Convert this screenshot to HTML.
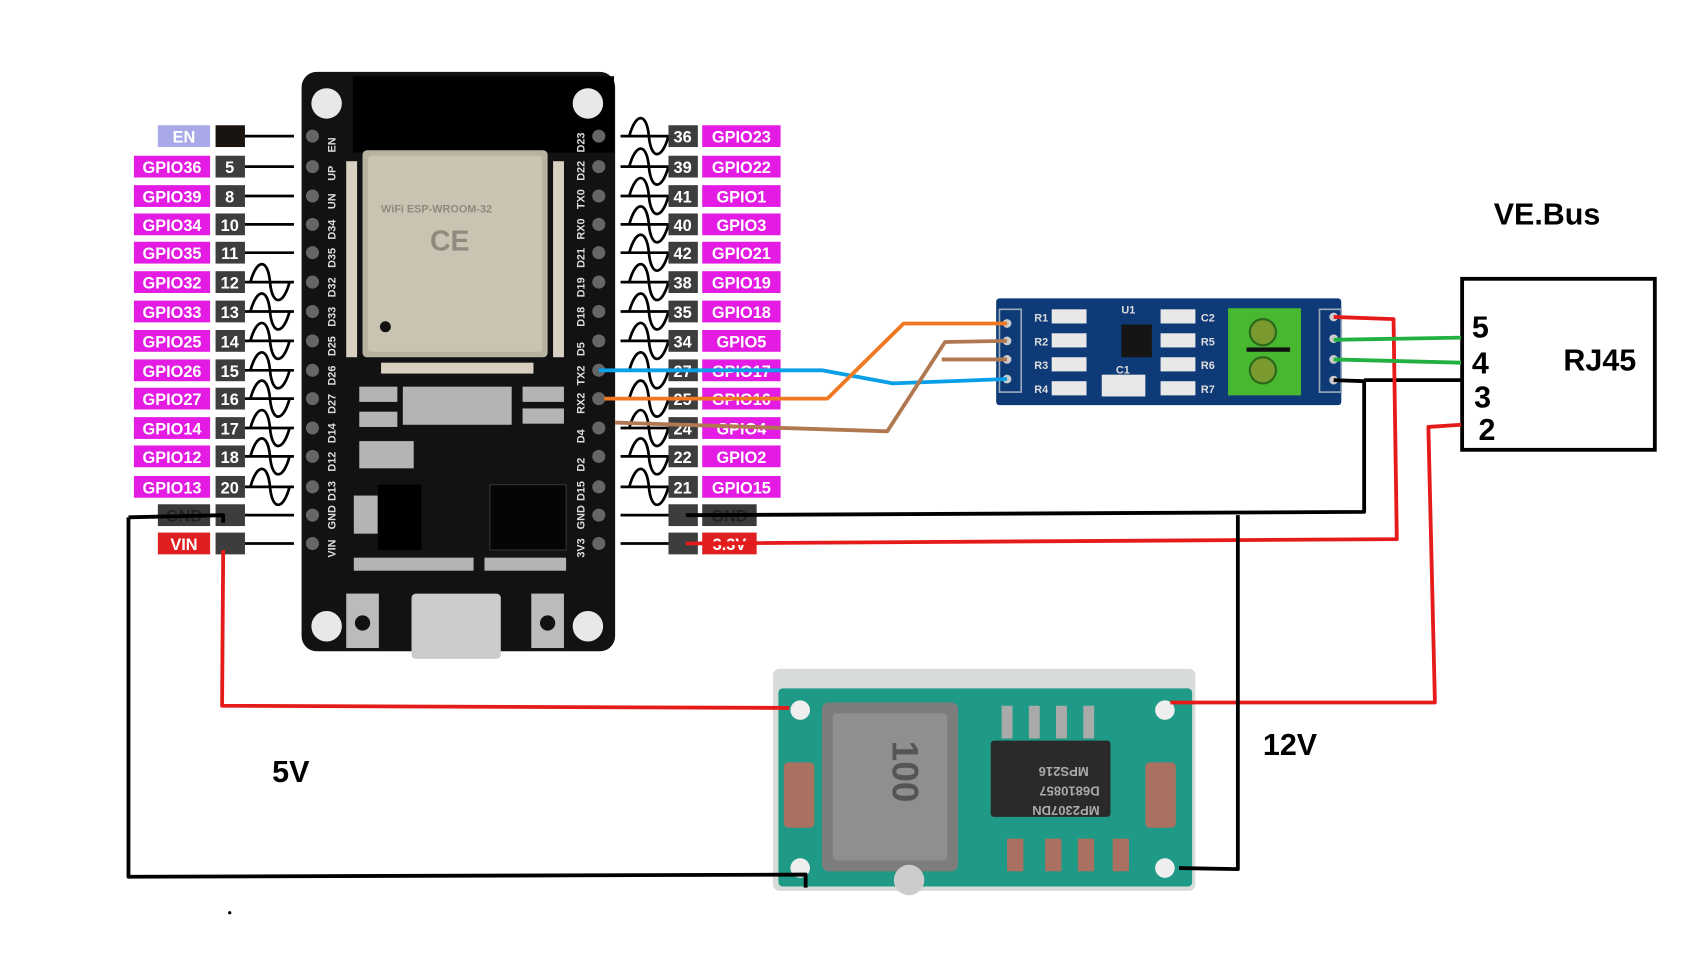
<!DOCTYPE html>
<html><head><meta charset="utf-8"><style>
html,body{margin:0;padding:0;background:#fff;width:1706px;height:953px;overflow:hidden}
svg{display:block}
.l{font-family:"Liberation Sans",sans-serif;font-weight:bold;font-size:15px;fill:#fff}
.s{font-family:"Liberation Sans",sans-serif;font-weight:bold;font-size:10px;fill:#ddd}
.w{fill:none;stroke-width:3.5;stroke-linejoin:round}
</style></head><body>
<svg width="1706" height="953" viewBox="0 0 1567 875" preserveAspectRatio="none" xmlns="http://www.w3.org/2000/svg">
<rect width="1567" height="875" fill="#fff"/>
<!-- ESP32 board -->
<rect x="277" y="66" width="288" height="532" rx="14" fill="#121212"/>
<rect x="324" y="70" width="240" height="70" fill="#000"/>
<g fill="#e8e8e8"><circle cx="300" cy="95" r="14"/><circle cx="540" cy="95" r="14"/><circle cx="300" cy="575" r="14"/><circle cx="540" cy="575" r="14"/></g>
<rect x="333" y="138" width="170" height="190" rx="4" fill="#b8b2a0"/>
<rect x="338" y="143" width="160" height="180" rx="3" fill="#c9c3b2"/>
<circle cx="354" cy="300" r="5" fill="#111"/>
<text x="350" y="195" class="s" style="fill:#8f8a7d">WiFi ESP-WROOM-32</text>
<text x="395" y="230" style="font:bold 26px 'Liberation Sans';fill:#8f8a7d">CE</text>
<g fill="#d8d0c0"><rect x="318" y="148" width="10" height="180"/><rect x="508" y="148" width="10" height="180"/><rect x="350" y="333" width="140" height="10"/></g>
<g fill="#ddd" opacity=".8"><rect x="330" y="355" width="35" height="14"/><rect x="330" y="378" width="35" height="14"/><rect x="370" y="355" width="100" height="35"/><rect x="480" y="355" width="38" height="14"/><rect x="480" y="375" width="38" height="14"/><rect x="330" y="405" width="50" height="25"/><rect x="325" y="455" width="22" height="35"/><rect x="325" y="512" width="110" height="12"/><rect x="445" y="512" width="75" height="12"/></g>
<rect x="450" y="445" width="70" height="60" fill="#050505" stroke="#333"/>
<rect x="347" y="445" width="40" height="60" fill="#000"/>
<g fill="#bbb"><rect x="318" y="545" width="30" height="50"/><rect x="488" y="545" width="30" height="50"/></g>
<g fill="#111"><circle cx="333" cy="572" r="7"/><circle cx="503" cy="572" r="7"/></g>
<rect x="378" y="545" width="82" height="60" rx="4" fill="#ccc"/>
<g fill="#666">
<circle cx="287" cy="125" r="6"/><circle cx="287" cy="153" r="6"/><circle cx="287" cy="180" r="6"/><circle cx="287" cy="206" r="6"/><circle cx="287" cy="232" r="6"/><circle cx="287" cy="259" r="6"/><circle cx="287" cy="286" r="6"/><circle cx="287" cy="313" r="6"/><circle cx="287" cy="340" r="6"/><circle cx="287" cy="366" r="6"/><circle cx="287" cy="393" r="6"/><circle cx="287" cy="419" r="6"/><circle cx="287" cy="447" r="6"/><circle cx="287" cy="473" r="6"/><circle cx="287" cy="499" r="6"/>
<circle cx="550" cy="125" r="6"/><circle cx="550" cy="153" r="6"/><circle cx="550" cy="180" r="6"/><circle cx="550" cy="206" r="6"/><circle cx="550" cy="232" r="6"/><circle cx="550" cy="259" r="6"/><circle cx="550" cy="286" r="6"/><circle cx="550" cy="313" r="6"/><circle cx="550" cy="340" r="6"/><circle cx="550" cy="366" r="6"/><circle cx="550" cy="393" r="6"/><circle cx="550" cy="419" r="6"/><circle cx="550" cy="447" r="6"/><circle cx="550" cy="473" r="6"/><circle cx="550" cy="499" r="6"/></g>
<g class="s">
<text transform="translate(308,140) rotate(-90)">EN</text><text transform="translate(308,166) rotate(-90)">UP</text><text transform="translate(308,192) rotate(-90)">UN</text><text transform="translate(308,220) rotate(-90)">D34</text><text transform="translate(308,246) rotate(-90)">D35</text><text transform="translate(308,273) rotate(-90)">D32</text><text transform="translate(308,300) rotate(-90)">D33</text><text transform="translate(308,327) rotate(-90)">D25</text><text transform="translate(308,354) rotate(-90)">D26</text><text transform="translate(308,380) rotate(-90)">D27</text><text transform="translate(308,407) rotate(-90)">D14</text><text transform="translate(308,433) rotate(-90)">D12</text><text transform="translate(308,460) rotate(-90)">D13</text><text transform="translate(308,486) rotate(-90)">GND</text><text transform="translate(308,512) rotate(-90)">VIN</text>
<text transform="translate(537,140) rotate(-90)">D23</text><text transform="translate(537,166) rotate(-90)">D22</text><text transform="translate(537,192) rotate(-90)">TX0</text><text transform="translate(537,220) rotate(-90)">RX0</text><text transform="translate(537,246) rotate(-90)">D21</text><text transform="translate(537,273) rotate(-90)">D19</text><text transform="translate(537,300) rotate(-90)">D18</text><text transform="translate(537,327) rotate(-90)">D5</text><text transform="translate(537,354) rotate(-90)">TX2</text><text transform="translate(537,380) rotate(-90)">RX2</text><text transform="translate(537,407) rotate(-90)">D4</text><text transform="translate(537,433) rotate(-90)">D2</text><text transform="translate(537,460) rotate(-90)">D15</text><text transform="translate(537,486) rotate(-90)">GND</text><text transform="translate(537,512) rotate(-90)">3V3</text>
</g>
<g stroke="#000" stroke-width="2.5">
<line x1="225" y1="125" x2="270" y2="125"/><line x1="225" y1="153" x2="270" y2="153"/><line x1="225" y1="180" x2="270" y2="180"/><line x1="225" y1="206" x2="270" y2="206"/><line x1="225" y1="232" x2="270" y2="232"/><line x1="225" y1="473" x2="270" y2="473"/><line x1="225" y1="499" x2="270" y2="499"/>
<line x1="570" y1="473" x2="614" y2="473"/><line x1="570" y1="499" x2="614" y2="499"/>
</g>
<defs><path id="sw" d="M225,0 L270,0 M230,0 C236,-22 246,-22 248,0 C250,22 260,22 266,0" fill="none" stroke="#000" stroke-width="2.5"/>
<path id="sr" d="M570,0 L614,0 M578,0 C584,-22 594,-22 596,0 C598,22 608,22 614,0" fill="none" stroke="#000" stroke-width="2.5"/></defs>
<use href="#sw" y="259"/><use href="#sw" y="286"/><use href="#sw" y="313"/><use href="#sw" y="340"/><use href="#sw" y="366"/><use href="#sw" y="393"/><use href="#sw" y="419"/><use href="#sw" y="447"/>
<use href="#sr" y="125"/><use href="#sr" y="153"/><use href="#sr" y="180"/><use href="#sr" y="206"/><use href="#sr" y="232"/><use href="#sr" y="259"/><use href="#sr" y="286"/><use href="#sr" y="313"/><use href="#sr" y="340"/><use href="#sr" y="366"/><use href="#sr" y="393"/><use href="#sr" y="419"/><use href="#sr" y="447"/>
<g fill="#e31be3">
<rect x="123" y="143" width="70" height="20"/><rect x="123" y="170" width="70" height="20"/><rect x="123" y="196" width="70" height="20"/><rect x="123" y="222" width="70" height="20"/><rect x="123" y="249" width="70" height="20"/><rect x="123" y="276" width="70" height="20"/><rect x="123" y="303" width="70" height="20"/><rect x="123" y="330" width="70" height="20"/><rect x="123" y="356" width="70" height="20"/><rect x="123" y="383" width="70" height="20"/><rect x="123" y="409" width="70" height="20"/><rect x="123" y="437" width="70" height="20"/>
<rect x="645" y="115" width="72" height="20"/><rect x="645" y="143" width="72" height="20"/><rect x="645" y="170" width="72" height="20"/><rect x="645" y="196" width="72" height="20"/><rect x="645" y="222" width="72" height="20"/><rect x="645" y="249" width="72" height="20"/><rect x="645" y="276" width="72" height="20"/><rect x="645" y="303" width="72" height="20"/><rect x="645" y="330" width="72" height="20"/><rect x="645" y="356" width="72" height="20"/><rect x="645" y="383" width="72" height="20"/><rect x="645" y="409" width="72" height="20"/><rect x="645" y="437" width="72" height="20"/>
</g>
<rect x="145" y="115" width="48" height="20" fill="#a9a9e8"/>
<rect x="145" y="463" width="48" height="20" fill="#3a3a3a"/>
<rect x="145" y="489" width="48" height="20" fill="#e02020"/>
<rect x="645" y="463" width="50" height="20" fill="#3a3a3a"/>
<rect x="645" y="489" width="50" height="20" fill="#e02020"/>
<g fill="#3d3d3d">
<rect x="198" y="115" width="27" height="20" fill="#1a1410"/><rect x="198" y="143" width="27" height="20"/><rect x="198" y="170" width="27" height="20"/><rect x="198" y="196" width="27" height="20"/><rect x="198" y="222" width="27" height="20"/><rect x="198" y="249" width="27" height="20"/><rect x="198" y="276" width="27" height="20"/><rect x="198" y="303" width="27" height="20"/><rect x="198" y="330" width="27" height="20"/><rect x="198" y="356" width="27" height="20"/><rect x="198" y="383" width="27" height="20"/><rect x="198" y="409" width="27" height="20"/><rect x="198" y="437" width="27" height="20"/><rect x="198" y="463" width="27" height="20"/><rect x="198" y="489" width="27" height="20"/>
<rect x="614" y="115" width="27" height="20"/><rect x="614" y="143" width="27" height="20"/><rect x="614" y="170" width="27" height="20"/><rect x="614" y="196" width="27" height="20"/><rect x="614" y="222" width="27" height="20"/><rect x="614" y="249" width="27" height="20"/><rect x="614" y="276" width="27" height="20"/><rect x="614" y="303" width="27" height="20"/><rect x="614" y="330" width="27" height="20"/><rect x="614" y="356" width="27" height="20"/><rect x="614" y="383" width="27" height="20"/><rect x="614" y="409" width="27" height="20"/><rect x="614" y="437" width="27" height="20"/><rect x="614" y="463" width="27" height="20"/><rect x="614" y="489" width="27" height="20"/>
</g>
<g class="l" text-anchor="middle">
<text x="169" y="131">EN</text><text x="158" y="159">GPIO36</text><text x="158" y="186">GPIO39</text><text x="158" y="212">GPIO34</text><text x="158" y="238">GPIO35</text><text x="158" y="265">GPIO32</text><text x="158" y="292">GPIO33</text><text x="158" y="319">GPIO25</text><text x="158" y="346">GPIO26</text><text x="158" y="372">GPIO27</text><text x="158" y="399">GPIO14</text><text x="158" y="425">GPIO12</text><text x="158" y="453">GPIO13</text><text x="169" y="479" style="fill:#222">GND</text><text x="169" y="505">VIN</text>
<text x="211" y="159">5</text><text x="211" y="186">8</text><text x="211" y="212">10</text><text x="211" y="238">11</text><text x="211" y="265">12</text><text x="211" y="292">13</text><text x="211" y="319">14</text><text x="211" y="346">15</text><text x="211" y="372">16</text><text x="211" y="399">17</text><text x="211" y="425">18</text><text x="211" y="453">20</text>
<text x="627" y="131">36</text><text x="627" y="159">39</text><text x="627" y="186">41</text><text x="627" y="212">40</text><text x="627" y="238">42</text><text x="627" y="265">38</text><text x="627" y="292">35</text><text x="627" y="319">34</text><text x="627" y="346">27</text><text x="627" y="372">25</text><text x="627" y="399">24</text><text x="627" y="425">22</text><text x="627" y="453">21</text>
<text x="681" y="131">GPIO23</text><text x="681" y="159">GPIO22</text><text x="681" y="186">GPIO1</text><text x="681" y="212">GPIO3</text><text x="681" y="238">GPIO21</text><text x="681" y="265">GPIO19</text><text x="681" y="292">GPIO18</text><text x="681" y="319">GPIO5</text><text x="681" y="346">GPIO17</text><text x="681" y="372">GPIO16</text><text x="681" y="399">GPIO4</text><text x="681" y="425">GPIO2</text><text x="681" y="453">GPIO15</text><text x="670" y="479" style="fill:#222">GND</text><text x="670" y="505">3.3V</text>
</g>
<!-- RS485 module -->
<rect x="915" y="274" width="317" height="98" rx="3" fill="#0f3a78"/>
<rect x="918" y="284" width="20" height="76" fill="none" stroke="#9ab" stroke-width="1.5"/>
<rect x="1212" y="284" width="20" height="76" fill="none" stroke="#9ab" stroke-width="1.5"/>
<g fill="#ccc"><circle cx="925" cy="297" r="4"/><circle cx="925" cy="313" r="4"/><circle cx="925" cy="330" r="4"/><circle cx="925" cy="348" r="4"/><circle cx="1225" cy="291" r="4"/><circle cx="1225" cy="311" r="4"/><circle cx="1225" cy="330" r="4"/><circle cx="1225" cy="349" r="4"/></g>
<g fill="#e8e8e8"><rect x="966" y="284" width="32" height="13"/><rect x="966" y="306" width="32" height="13"/><rect x="966" y="328" width="32" height="13"/><rect x="966" y="350" width="32" height="13"/><rect x="1066" y="284" width="32" height="13"/><rect x="1066" y="306" width="32" height="13"/><rect x="1066" y="328" width="32" height="13"/><rect x="1066" y="350" width="32" height="13"/><rect x="1012" y="344" width="40" height="20"/></g>
<rect x="1030" y="298" width="28" height="30" fill="#151515"/>
<g class="s" font-size="9"><text x="950" y="295">R1</text><text x="950" y="317">R2</text><text x="950" y="339">R3</text><text x="950" y="361">R4</text><text x="1103" y="295">C2</text><text x="1103" y="317">R5</text><text x="1103" y="339">R6</text><text x="1103" y="361">R7</text><text x="1030" y="288">U1</text><text x="1025" y="343">C1</text></g>
<rect x="1128" y="283" width="67" height="80" fill="#48b830"/>
<circle cx="1160" cy="305" r="12" fill="#7a9a30" stroke="#2c6a1a" stroke-width="2"/>
<circle cx="1160" cy="340" r="12" fill="#7a9a30" stroke="#2c6a1a" stroke-width="2"/>
<rect x="1145" y="319" width="40" height="4" fill="#111"/>
<!-- Buck converter -->
<rect x="710" y="614" width="388" height="204" rx="6" fill="#d8dcd8"/>
<rect x="715" y="632" width="380" height="182" rx="4" fill="#1e9a86"/>
<rect x="755" y="645" width="125" height="155" rx="6" fill="#7d7d7d"/>
<rect x="765" y="655" width="105" height="135" rx="4" fill="#8f8f8f"/>
<text transform="translate(820,680) rotate(90)" style="font:bold 34px 'Liberation Sans';fill:#555">100</text>
<rect x="910" y="680" width="110" height="70" rx="3" fill="#2a2a2a"/>
<g fill="#aaa"><rect x="920" y="648" width="10" height="30"/><rect x="945" y="648" width="10" height="30"/><rect x="970" y="648" width="10" height="30"/><rect x="995" y="648" width="10" height="30"/></g>
<g style="font:bold 12px 'Liberation Sans';fill:#aaa"><text transform="translate(1010,740) rotate(180)">MP2307DN</text><text transform="translate(1010,722) rotate(180)">D6810857</text><text transform="translate(1000,704) rotate(180)">MPS216</text></g>
<g fill="#eee"><circle cx="735" cy="652" r="9"/><circle cx="1070" cy="652" r="9"/><circle cx="735" cy="797" r="9"/><circle cx="1070" cy="797" r="9"/></g>
<g fill="#aa7060"><rect x="720" y="700" width="28" height="60" rx="4"/><rect x="1052" y="700" width="28" height="60" rx="4"/><rect x="925" y="770" width="15" height="30"/><rect x="960" y="770" width="15" height="30"/><rect x="990" y="770" width="15" height="30"/><rect x="1022" y="770" width="15" height="30"/></g>
<circle cx="835" cy="808" r="14" fill="#ccc"/>
<!-- RJ45 -->
<rect x="1343" y="256" width="177" height="157" fill="#fff" stroke="#000" stroke-width="3.5"/>
<g style="font:bold 28px 'Liberation Sans';fill:#000">
<text x="1352" y="310">5</text><text x="1352" y="343">4</text><text x="1354" y="374">3</text><text x="1358" y="404">2</text>
<text x="1436" y="340">RJ45</text>
<text x="1372" y="206">VE.Bus</text>
<text x="1160" y="693">12V</text>
<text x="250" y="718">5V</text>
</g>
<!-- wires -->
<path class="w" stroke="#0aa0e8" d="M550,340 L755,340 L820,352 L925,348"/>
<path class="w" stroke="#f07820" d="M555,366 L760,366 L830,297 L925,297"/>
<path class="w" stroke="#b07850" d="M565,388 L815,396 L868,314 L925,313"/>
<path class="w" stroke="#b07850" d="M865,330 L925,330"/>
<path class="w" stroke="#000" d="M630,473 L1253,470 L1253,350 L1225,349"/>
<path class="w" stroke="#000" d="M1253,349 L1342,349"/>
<path class="w" stroke="#e51b1b" d="M630,499 L1283,495 L1280,293 L1225,291"/>
<path class="w" stroke="#22b040" d="M1225,312 L1342,310"/>
<path class="w" stroke="#22b040" d="M1225,330 L1342,333"/>
<path class="w" stroke="#e51b1b" d="M1342,390 L1312,392 L1318,645 L1075,645"/>
<path class="w" stroke="#000" d="M1137,473 L1137,798 L1083,797"/>
<path class="w" stroke="#000" d="M118,475 L205,473 L205,480"/>
<path class="w" stroke="#000" d="M118,475 L118,805 L740,803 L740,815"/>
<path class="w" stroke="#e51b1b" d="M205,505 L204,648 L725,650"/>
<circle cx="211" cy="838" r="1.5" fill="#000"/>
</svg>
</body></html>
